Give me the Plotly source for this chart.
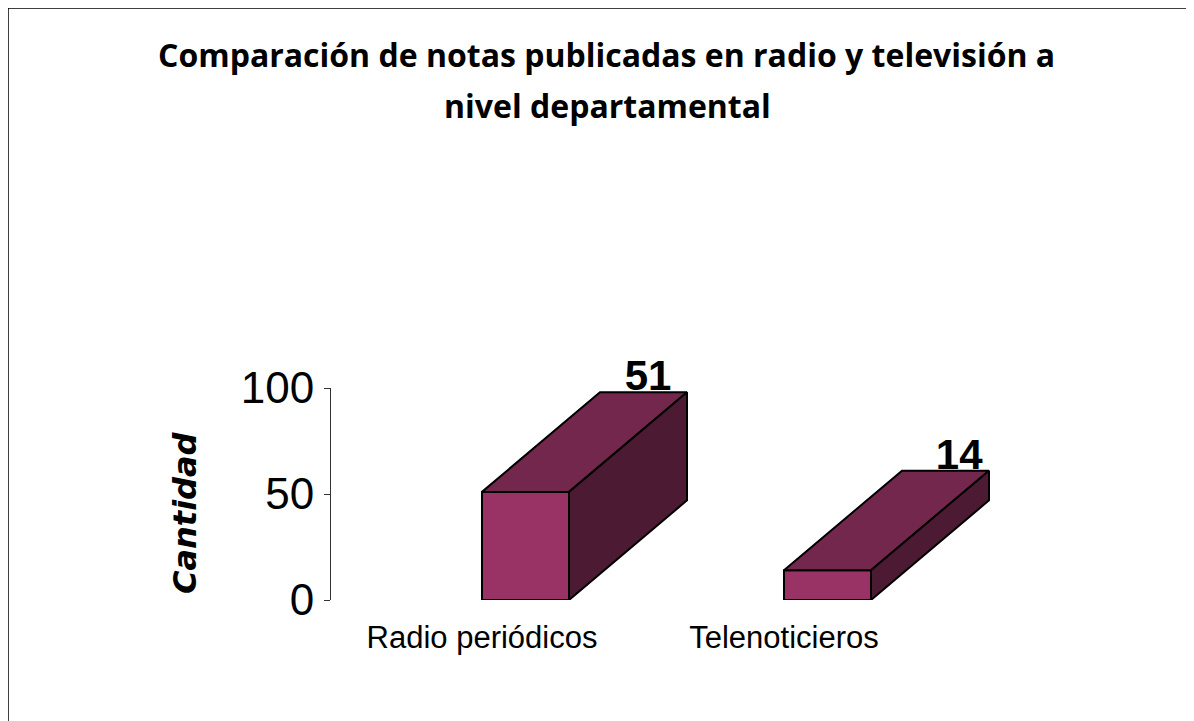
import plotly.graph_objects as go

categories = ["Radio periódicos", "Telenoticieros"]
values = [51, 14]
y_ticks = [0, 50, 100]
title_lines = ["Comparación de notas publicadas en radio y televisión a", "nivel departamental"]
y_title = "Cantidad"

# page pixels -> figure pixels (the page body adds an 8 px margin)
FIG_W, FIG_H = 1186, 713
OFF = 8
x0_px, x1_px = 331 - OFF, 1100 - OFF
y0_px, y100_px = 600 - OFF, 388 - OFF
cat_step = 302.0
bar_w = 87 / cat_step
depth_x = 118 / cat_step
depth_y = 47.0
label_drop = 4.0
FRONT, TOP, SIDE, EDGE = "#993366", "#73274D", "#4D1A33", "#000000"

fig = go.Figure()

# data labels sit behind the solid
fig.add_trace(go.Scatter(
    x=[i + 0.55 + 0.03 * i for i in range(len(values))],
    y=[v + depth_y - label_drop for v in values],
    text=[str(v) for v in values], mode="text", textposition="top center", cliponaxis=False,
    textfont=dict(family="Liberation Sans", size=42, color="#000000", weight="bold"),
    showlegend=False, hoverinfo="skip"))

for i, v in enumerate(values):
    l, r = i, i + bar_w
    fig.add_trace(go.Scatter(
        x=[l, r, r + depth_x, l + depth_x, l], y=[v, v, v + depth_y, v + depth_y, v],
        mode="lines", fill="toself", fillcolor=TOP, line=dict(color=EDGE, width=2),
        showlegend=False, hoverinfo="skip"))
    fig.add_trace(go.Scatter(
        x=[r, r + depth_x, r + depth_x, r, r], y=[0, depth_y, v + depth_y, v, 0],
        mode="lines", fill="toself", fillcolor=SIDE, line=dict(color=EDGE, width=2),
        showlegend=False, hoverinfo="skip"))

fig.add_trace(go.Bar(
    x=list(range(len(values))), y=values, width=bar_w, offset=0,
    marker=dict(color=FRONT, line=dict(color=EDGE, width=2)),
    showlegend=False, hoverinfo="skip"))

fig.update_layout(
    width=FIG_W, height=FIG_H, margin=dict(l=0, r=0, t=0, b=0, autoexpand=False),
    paper_bgcolor="#FFFFFF", plot_bgcolor="#FFFFFF",
    xaxis=dict(
        domain=[x0_px / FIG_W, x1_px / FIG_W],
        range=[-(482 - 331) / cat_step, (1100 - 482) / cat_step],
        tickmode="array", tickvals=list(range(len(categories))), ticktext=categories,
        showgrid=False, zeroline=False, showline=False, ticks="",
        tickfont=dict(family="Liberation Sans", size=31, color="#000000"),
        ticklabelstandoff=16),
    yaxis=dict(
        domain=[1 - y0_px / FIG_H, 1 - y100_px / FIG_H],
        range=[0, 100], tickmode="array", tickvals=y_ticks,
        showgrid=False, zeroline=False, showline=True, linecolor="#333333", linewidth=1,
        ticks="outside", ticklen=6, tickcolor="#333333", tickwidth=1,
        tickfont=dict(family="Liberation Sans", size=44, color="#000000"),
        ticklabelstandoff=1),
    shapes=[
        dict(type="line", xref="paper", yref="paper", x0=0, x1=0, y0=0, y1=1,
             line=dict(color="#000000", width=1.5)),
        dict(type="line", xref="paper", yref="paper", x0=0, x1=1, y0=1, y1=1,
             line=dict(color="#000000", width=1.5)),
    ],
    annotations=[
        dict(text=title_lines[0], xref="paper", yref="paper", xanchor="center", yanchor="middle",
             x=(606 - OFF) / FIG_W, y=1 - (55 - OFF) / FIG_H, showarrow=False,
             font=dict(family="Open Sans", size=32, color="#000000", weight="bold")),
        dict(text=title_lines[1], xref="paper", yref="paper", xanchor="center", yanchor="middle",
             x=(607 - OFF) / FIG_W, y=1 - (105 - OFF) / FIG_H, showarrow=False,
             font=dict(family="Open Sans", size=32, color="#000000", weight="bold")),
        dict(text=y_title, xref="paper", yref="paper", textangle=-90, xanchor="center", yanchor="middle",
             x=(185 - OFF) / FIG_W, y=1 - (513 - OFF) / FIG_H, showarrow=False,
             font=dict(family="DejaVu Sans", size=32, color="#000000", weight="bold", style="italic")),
    ],
)
fig.write_html("out.html", post_script="document.documentElement.style.overflow='hidden';document.body.style.overflow='hidden';")
